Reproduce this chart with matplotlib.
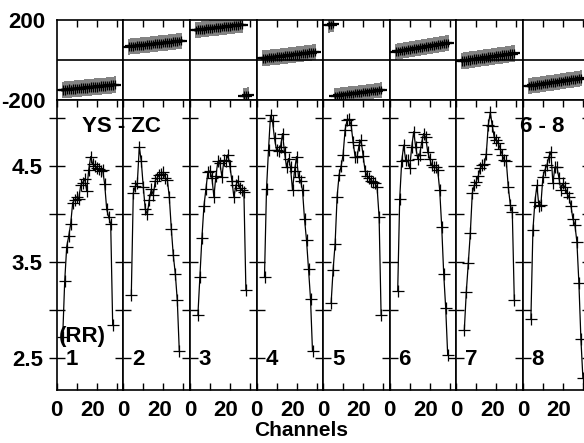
import numpy as np
import matplotlib
matplotlib.use("Agg")
import matplotlib.pyplot as plt
from matplotlib.transforms import ScaledTranslation

plt.rcParams['font.family'] = ['Liberation Sans', 'DejaVu Sans']
plt.rcParams['font.weight'] = 'bold'
plt.rcParams['font.size'] = 16

# ---- data ----
panel_labels = ['1', '2', '3', '4', '5', '6', '7', '8']

# amplitude (first channel of each panel, then one value per channel)
amp_start = [3, 4, 4, 4, 4, 4, 4, 4]
amp_1 = [2.72, 3.30, 3.66, 3.77, 3.90, 4.12, 4.15, 4.18, 4.16, 4.30, 4.33, 4.37, 4.24,
         4.46, 4.60, 4.52, 4.50, 4.48, 4.47, 4.45, 4.46, 4.31, 4.05, 3.97, 3.90, 2.84]
amp_2 = [3.16, 4.22, 4.29, 4.32, 4.70, 4.55, 4.28, 4.05, 4.00, 4.15, 4.26, 4.20, 4.35,
         4.38, 4.41, 4.42, 4.44, 4.38, 4.36, 4.18, 3.85, 3.57, 3.38, 3.10, 2.57]
amp_3 = [2.95, 3.35, 3.75, 4.08, 4.26, 4.44, 4.45, 4.38, 4.18, 4.40, 4.55, 4.53, 4.39,
         4.56, 4.55, 4.62, 4.50, 4.35, 4.18, 4.30, 4.35, 4.27, 4.25, 4.23, 3.21]
amp_4 = [3.35, 4.26, 4.67, 5.03, 4.97, 4.79, 4.67, 4.66, 4.70, 4.84, 4.65, 4.49, 4.58,
         4.49, 4.25, 4.45, 4.60, 4.39, 4.35, 4.25, 3.95, 3.73, 3.43, 3.12, 2.57]
amp_5 = [3.07, 3.42, 3.69, 4.18, 4.41, 4.50, 4.62, 4.88, 4.98, 4.99, 4.93, 4.75, 4.60,
         4.60, 4.72, 4.77, 4.61, 4.45, 4.40, 4.38, 4.35, 4.34, 4.32, 4.28, 3.97, 2.95]
amp_6 = [3.20, 4.16, 4.55, 4.72, 4.56, 4.56, 4.48, 4.70, 4.86, 4.70, 4.58, 4.62, 4.75,
         4.84, 4.80, 4.65, 4.58, 4.51, 4.49, 4.49, 4.46, 4.25, 3.87, 3.38, 3.02, 2.53]
amp_7 = [2.79, 3.19, 3.49, 3.80, 4.22, 4.30, 4.34, 4.40, 4.48, 4.51, 4.52, 4.63, 4.93,
         5.06, 4.92, 4.80, 4.77, 4.74, 4.68, 4.62, 4.56, 4.55, 4.28, 4.10, 4.02, 3.10]
amp_8 = [2.91, 3.83, 4.13, 4.30, 4.08, 4.10, 4.39, 4.46, 4.51, 4.60, 4.65, 4.32, 4.49,
         4.49, 4.38, 4.25, 4.32, 4.28, 4.22, 4.18, 4.09, 3.95, 3.89, 3.71, 3.28, 2.70, 2.29]
amps = [amp_1, amp_2, amp_3, amp_4, amp_5, amp_6, amp_7, amp_8]

# phase (degrees)
ph_start = [3, 3, 3, 3, 3, 3, 3, 3]
ph_1 = [-150, -149, -148, -146, -147, -145, -144, -143, -143, -141, -140, -139, -139, -137,
        -136, -135, -134, -134, -132, -131, -130, -130, -128, -127, -126, -125, -123]
ph_2 = [67, 68, 69, 70, 71, 72, 73, 74, 75, 76, 77, 78, 80, 81, 82, 83, 84, 85, 86, 87,
        88, 89, 91, 92, 93, 95, 96]
ph_3 = [150, 151, 152, 153, 154, 156, 157, 158, 159, 160, 161, 162, 163, 165, 166, 167,
        168, 169, 170, 172, 173, 174, 176, 177, -179, -178, -177]
ph_4 = [8, 9, 10, 11, 13, 14, 15, 16, 17, 19, 20, 21, 22, 23, 24, 25, 27, 28, 29, 30, 32,
        33, 34, 36, 37, 39, 40]
ph_5 = [175, 177, 179, -179, -178, -177, -175, -174, -173, -172, -170, -169, -168, -167,
        -166, -164, -163, -162, -161, -159, -158, -157, -156, -154, -153, -152, -150]
ph_6 = [42, 44, 45, 47, 49, 50, 52, 54, 55, 57, 58, 60, 62, 63, 65, 67, 68, 70, 71, 73,
        75, 76, 78, 80, 81, 83, 85]
ph_7 = [-5, -4, -2, -1, 1, 2, 4, 5, 7, 8, 10, 11, 13, 14, 15, 17, 18, 20, 21, 23, 24, 25,
        27, 28, 30, 31, 33]
ph_8 = [-130, -129, -127, -126, -124, -123, -121, -120, -118, -117, -115, -114, -113, -111,
        -110, -108, -107, -105, -104, -102, -101, -99, -98, -97, -95, -94, -92]
phases = [ph_1, ph_2, ph_3, ph_4, ph_5, ph_6, ph_7, ph_8]
ph_err_outer = [42, 40, 40, 40, 38, 40, 42, 40]   # grey bars
ph_err_inner = [24, 22, 22, 22, 20, 22, 24, 22]   # black bars

# ---- layout (pixels of the 584x443 image) ----
W, H = 584, 443
x0, pw = 56.7, 66.6
y_top, y_mid, y_bot = 20, 100, 390

fig = plt.figure(figsize=(W / 100, H / 100), dpi=100)


def frac_box(left, top, width, height):
    return [left / W, 1 - (top + height) / H, width / W, height / H]


def break_wraps(ch, ph):
    xs, ys = [ch[0]], [ph[0]]
    for k in range(1, len(ph)):
        if abs(ph[k] - ph[k - 1]) > 180:
            xs.append(np.nan)
            ys.append(np.nan)
        xs.append(ch[k])
        ys.append(ph[k])
    return xs, ys


shift = ScaledTranslation(-4 / 100, 0, fig.dpi_scale_trans)

for i in range(8):
    left = x0 + i * pw
    axp = fig.add_axes(frac_box(left, y_top, pw, y_mid - y_top))
    axa = fig.add_axes(frac_box(left, y_mid, pw, y_bot - y_mid))

    # phase panel
    ch = np.arange(ph_start[i], ph_start[i] + len(phases[i]))
    axp.errorbar(ch, phases[i], yerr=ph_err_outer[i], fmt='none', ecolor='0.5',
                 elinewidth=1.4, capsize=0)
    axp.errorbar(ch, phases[i], yerr=ph_err_inner[i], fmt='none', ecolor='k',
                 elinewidth=0.9, capsize=0)
    bx, by = break_wraps(list(ch), phases[i])
    axp.plot(bx, by, color='k', lw=2.0)
    axp.plot(ch, phases[i], '_', color='k', ms=8, mew=1.6)
    axp.axhline(0, color='k', lw=1.2)
    axp.set_xlim(0, 33.3)
    axp.set_ylim(-200, 200)
    axp.set_xticks([10, 20, 30])
    axp.set_xticklabels([])
    axp.tick_params(axis='x', direction='in', top=True, bottom=False, length=5, width=1)
    if i == 0:
        axp.set_yticks([-200, 200])
        axp.set_yticklabels(['-200', '200'])
        axp.tick_params(axis='y', length=0, pad=8)
    else:
        axp.set_yticks([])

    # amplitude panel
    ch = np.arange(amp_start[i], amp_start[i] + len(amps[i]))
    axa.plot(ch, amps[i], color='k', lw=0.9, marker='+', ms=9, mew=0.9)
    axa.set_xlim(0, 33.3)
    axa.set_ylim(2.167, 5.19)
    axa.set_xticks([0, 20])
    axa.set_xticklabels(['0', '20'])
    axa.set_xticks([10, 30], minor=True)
    axa.tick_params(axis='x', which='both', direction='in', top=True, bottom=True,
                    length=5, width=1, pad=7)
    for t in axa.xaxis.get_major_ticks()[1:]:
        t.label1.set_transform(t.label1.get_transform() + shift)
    axa.set_yticks([2.5, 3.5, 4.5])
    axa.set_yticks([3.0, 4.0, 5.0], minor=True)
    if i == 0:
        axa.set_yticklabels(['2.5', '3.5', '4.5'])
        axa.tick_params(axis='y', which='both', direction='inout', left=True, right=True,
                        length=12, width=1, pad=4)
        axa.text(1.2, 2.72, '(RR)', ha='left', va='center', fontsize=16, fontweight='bold')
    else:
        axa.set_yticklabels([])
        axa.tick_params(axis='y', which='both', direction='in', left=True, right=True,
                        length=6, width=1)
    axa.text(7.5, 2.48, panel_labels[i], ha='center', va='center', fontsize=16,
             fontweight='bold')

    for a in (axp, axa):
        for s in a.spines.values():
            s.set_linewidth(1.2)

fig.text(121.7 / W, 1 - 127 / H, 'YS - ZC', ha='center', va='center', fontsize=16,
         fontweight='bold')
fig.text(542 / W, 1 - 127 / H, '6 - 8', ha='center', va='center', fontsize=16,
         fontweight='bold')
fig.text(301 / W, 1 - 430 / H, 'Channels', ha='center', va='center', fontsize=15,
         fontweight='bold')

fig.savefig('out.png', dpi=100)
